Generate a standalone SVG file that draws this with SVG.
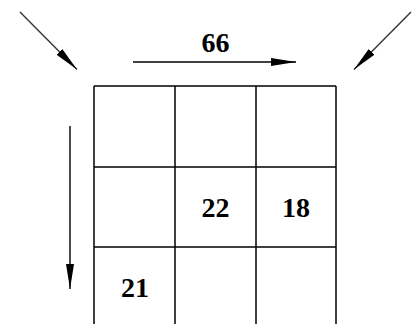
<svg xmlns="http://www.w3.org/2000/svg" width="412" height="324" viewBox="0 0 412 324">
<style>
.grid{stroke:#000;stroke-width:1.5;fill:none}
.conn{stroke:#000;stroke-width:1.4;fill:none}
.diag{stroke:#333;stroke-width:1.4;fill:none}
.num{font-family:"Liberation Serif","Times New Roman",serif;font-weight:bold;font-size:28px;fill:#000;text-anchor:middle}
</style>
<defs>
<marker id="ah" markerUnits="userSpaceOnUse" markerWidth="26" markerHeight="9" refX="25" refY="4.5" orient="auto">
<path d="M0,0.5 L25,4.5 L0,8.5 Z" fill="#000"/>
</marker>
</defs>
<rect width="412" height="324" fill="#fff"/>
<g id="grid">
<path class="grid" d="M94,86 H336 M94,167 H336 M94,247 H336 M94,86 V324 M175,86 V324 M256,86 V324 M336,86 V324"/>
</g>
<g id="cell-22"><text class="num" x="215.5" y="217">22</text></g>
<g id="cell-18"><text class="num" x="296" y="217">18</text></g>
<g id="cell-21"><text class="num" x="135" y="297">21</text></g>
<g id="label-66"><text class="num" x="215.5" y="52">66</text></g>
<g id="connectors">
<line class="conn" x1="133" y1="62" x2="296" y2="62" marker-end="url(#ah)"/>
<line class="conn" x1="70" y1="126" x2="70" y2="289" marker-end="url(#ah)"/>
<line class="diag" x1="20" y1="12" x2="77" y2="69.5" marker-end="url(#ah)"/>
<line class="diag" x1="411" y1="12" x2="354" y2="69.5" marker-end="url(#ah)"/>
</g>
</svg>
